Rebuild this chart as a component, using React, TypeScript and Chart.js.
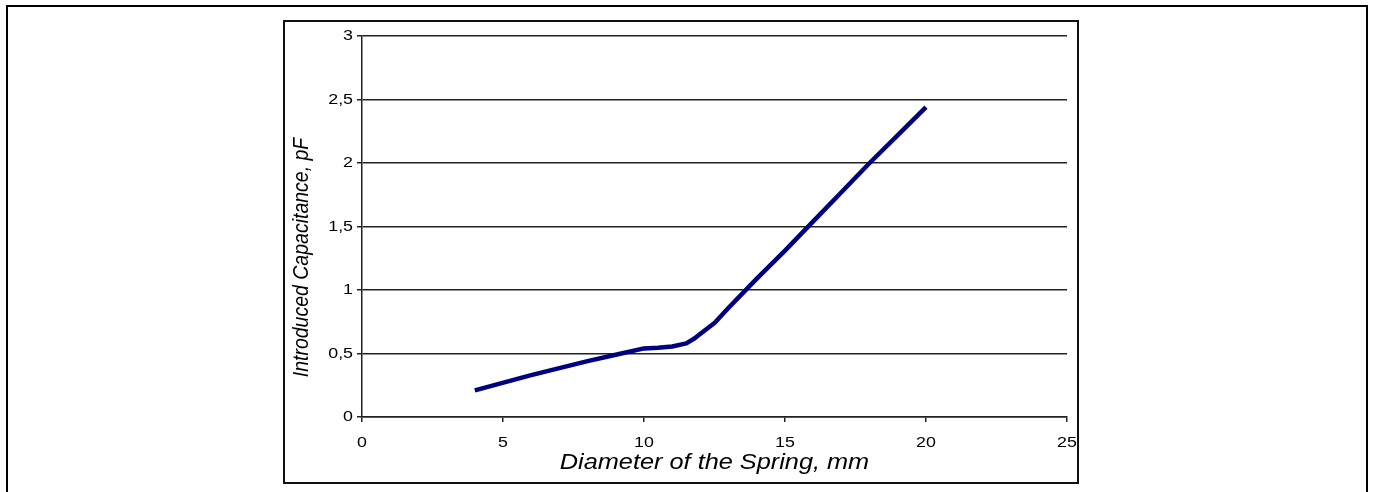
import React, { useEffect, useRef } from "react";
import { Chart, registerables } from "chart.js";

Chart.register(...registerables);

const diameters = [4, 6, 8, 9, 10, 10.5, 11, 11.5, 11.8, 12, 12.5, 13, 14, 15, 16, 17, 18, 19, 20];
const capacitance = [0.21, 0.33, 0.44, 0.49, 0.54, 0.545, 0.555, 0.58, 0.62, 0.655, 0.74, 0.86, 1.09, 1.31, 1.54, 1.77, 2.0, 2.22, 2.44];
const xTicks = [0, 5, 10, 15, 20, 25];
const yTicks = [0, 0.5, 1, 1.5, 2, 2.5, 3];
const xTitle = "Diameter of the Spring, mm";
const yTitle = "Introduced Capacitance, pF";

const FONT = "'Liberation Sans', Arial, sans-serif";
const TEXT_STRETCH = 1.15;

// the reference's text is drawn slightly stretched horizontally; emulate by scaling around the text anchor
function stretchText(ctx: CanvasRenderingContext2D) {
  const orig = ctx.fillText;
  (ctx as any).fillText = function (this: CanvasRenderingContext2D, ...args: any[]) {
    const m = ctx.getTransform();
    const p = m.transformPoint(new DOMPoint(args[1], args[2]));
    ctx.save();
    ctx.setTransform(
      new DOMMatrix().translate(p.x, 0).scale(TEXT_STRETCH, 1).translate(-p.x, 0).multiply(m)
    );
    (orig as any).apply(ctx, args);
    ctx.restore();
  };
}

const yTitlePlugin = {
  id: "yTitle",
  afterDraw(chart: any) {
    const { ctx, chartArea } = chart;
    ctx.save();
    ctx.translate(chartArea.left - 60, (chartArea.top + chartArea.bottom) / 2 + 31);
    ctx.rotate(-Math.PI / 2);
    ctx.font = `italic 19.5px ${FONT}`;
    ctx.fillStyle = "#000";
    ctx.textAlign = "center";
    ctx.textBaseline = "middle";
    ctx.fillText(yTitle, 0, 0);
    ctx.restore();
  },
};

export default function App() {
  const ref = useRef<HTMLCanvasElement>(null);

  useEffect(() => {
    const canvas = ref.current!;
    const ctx = canvas.getContext("2d")!;
    stretchText(ctx);
    const chart = new Chart(canvas, {
      type: "scatter",
      data: {
        datasets: [
          {
            data: diameters.map((x, i) => ({ x, y: capacitance[i] })),
            showLine: true,
            borderColor: "#000080",
            backgroundColor: "#000080",
            borderWidth: 4.5,
            pointRadius: 0,
            tension: 0,
            borderJoinStyle: "round",
            borderCapStyle: "butt",
          },
        ],
      },
      options: {
        responsive: false,
        animation: false,
        devicePixelRatio: 1,
        plugins: { legend: { display: false }, tooltip: { enabled: false } },
        layout: { padding: { left: 282, right: 306, top: 36, bottom: 0 } },
        scales: {
          x: {
            type: "linear",
            min: 0,
            max: 25,
            afterBuildTicks: (s: any) => {
              s.ticks = xTicks.map((v) => ({ value: v }));
            },
            afterFit: (s: any) => {
              s.height = 75;
            },
            grid: { drawOnChartArea: false, drawTicks: true, tickLength: 5, color: "#222", lineWidth: 1.5 },
            border: { display: true, color: "#222", width: 1.5 },
            ticks: {
              color: "#000",
              font: { family: FONT, size: 15.5 },
              padding: 11,
              maxRotation: 0,
              callback: (v: any) => String(v),
            },
            title: {
              display: true,
              text: xTitle,
              color: "#000",
              font: { family: FONT, size: 22, style: "italic" },
              padding: { top: 0, bottom: 16 },
            },
          },
          y: {
            type: "linear",
            min: 0,
            max: 3,
            afterBuildTicks: (s: any) => {
              s.ticks = yTicks.map((v) => ({ value: v }));
            },
            afterFit: (s: any) => {
              s.width = 80;
            },
            grid: { drawOnChartArea: true, drawTicks: true, tickLength: 5, color: "#222", lineWidth: 1.5 },
            border: { display: true, color: "#222", width: 1.5 },
            ticks: {
              color: "#000",
              font: { family: FONT, size: 15.5 },
              padding: 4,
              callback: (v: any) => String(v).replace(".", ","),
            },
            title: { display: false },
          },
        },
      },
      plugins: [yTitlePlugin],
    } as any);
    return () => chart.destroy();
  }, []);

  return (
    <div style={{ position: "fixed", left: 0, top: 0, width: 1373, height: 492, background: "#fff" }}>
      <div
        style={{
          position: "absolute",
          left: 6,
          top: 5,
          width: 1358,
          height: 520,
          border: "2px solid #000",
        }}
      />
      <div
        style={{
          position: "absolute",
          left: 283,
          top: 20,
          width: 792,
          height: 460,
          border: "2px solid #111",
        }}
      />
      <canvas ref={ref} width={1373} height={492} style={{ position: "absolute", left: 0, top: 0 }} />
    </div>
  );
}
